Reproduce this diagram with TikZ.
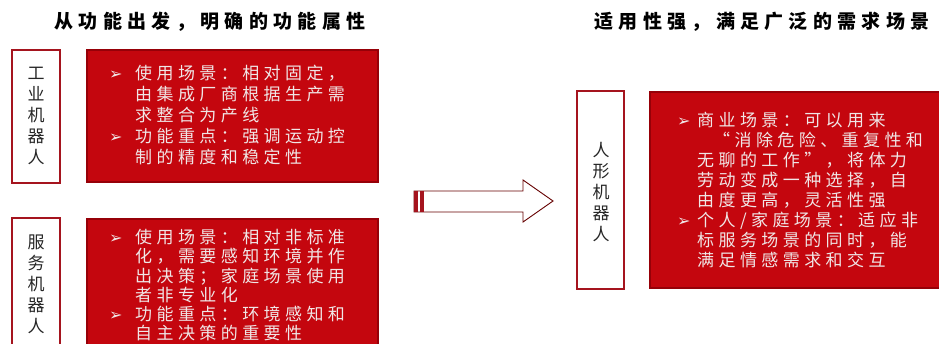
\documentclass[tikz,border=0pt]{standalone}
\usepackage{fontspec}
\newfontfamily\cjk[LetterSpace=26]{Noto Sans CJK SC}
\newfontfamily\cjkt[LetterSpace=28]{Noto Sans CJK SC}
\newfontfamily\cjkv{Noto Sans CJK SC}
\newfontfamily\dv{DejaVu Sans}
\definecolor{boxred}{RGB}{196,6,14}
\definecolor{boxdark}{RGB}{150,0,8}
\definecolor{lblred}{RGB}{165,20,30}
\definecolor{txtw}{RGB}{240,230,230}
\tikzset{
  lbl/.style={draw=lblred, line width=1.2pt, fill=white, inner sep=0pt},
  redbox/.style={fill=boxred, draw=boxdark, line width=2pt, inner sep=0pt},
  body/.style={text=txtw, align=left, anchor=base west, inner sep=0pt},
  vlab/.style={font=\cjkv\fontsize{17}{21}\selectfont, align=center, anchor=base, inner sep=0pt, text=black!85},
  ttl/.style={font=\cjkt\bfseries\fontsize{19}{22}\selectfont, anchor=base, inner sep=0pt, text=black},
  blockarrow/.style={draw=black!60!red, line width=0.9pt, fill=white, line join=miter},
}
\newcommand{\bul}[1]{\makebox[#1][l]{\dv\fontsize{16}{16}\selectfont ➢}}
\begin{document}
\begin{tikzpicture}[x=1pt,y=-1pt]
\useasboundingbox (0,0) rectangle (939,344);
\fill[white] (0,0) rectangle (939,344);
\clip (0,0) rectangle (939,344);

% titles
\node[ttl] (t1) at (210,29) {从功能出发，明确的功能属性};
\node[ttl] (t2) at (762,29) {适用性强，满足广泛的需求场景};

% left column label boxes
\node[lbl, minimum width=48pt, minimum height=133pt] (b1) at (36,116.5) {};
\node[lbl, minimum width=48pt, minimum height=140pt] (b2) at (36,288) {};
\node[vlab] (l1) at (36,163.5) {工\\业\\机\\器\\人};
\node[vlab] (l2) at (36,332.5) {服\\务\\机\\器\\人};

% red boxes left
\node[redbox, minimum width=291pt, minimum height=132pt] (r1) at (232.5,116) {};
\node[redbox, minimum width=291pt, minimum height=140pt] (r2) at (232.5,289) {};

\node[body, font=\cjk\fontsize{17}{21}\selectfont] (x1) at (109,163.5) {%
\bul{26pt}使用场景：相对固定，\\
\hspace*{26pt}由集成厂商根据生产需\\
\hspace*{26pt}求整合为产线\\
\bul{26pt}功能重点：强调运动控\\
\hspace*{26pt}制的精度和稳定性};

\node[body, font=\cjk\fontsize{17}{19.3}\selectfont] (x2) at (109,340) {%
\bul{26pt}使用场景：相对非标准\\
\hspace*{26pt}化，需要感知环境并作\\
\hspace*{26pt}出决策；家庭场景使用\\
\hspace*{26pt}者非专业化\\
\bul{26pt}功能重点：环境感知和\\
\hspace*{26pt}自主决策的重要性};

% arrow
\draw[blockarrow] (414,191) -- (523,191) -- (523,180) -- (553,201) -- (523,222) -- (523,212) -- (414,212) -- cycle;
\fill[lblred] (414,191) rectangle (418,212);
\fill[lblred] (420,191) rectangle (424,212);

% right label box
\node[lbl, minimum width=47pt, minimum height=198pt] (b3) at (600.5,190) {};
\node[vlab] (l3) at (601,240.5) {人\\形\\机\\器\\人};

% right red box
\node[redbox, minimum width=292pt, minimum height=196pt] (r3) at (796,190) {};
\node[body, font=\cjk\fontsize{17}{20}\selectfont] (x3) at (677,266.5) {%
\bul{20pt}商业场景：可以用来\\
\hspace*{36pt}“消除危险、重复性和\\
\hspace*{20pt}无聊的工作”，将体力\\
\hspace*{20pt}劳动变成一种选择，自\\
\hspace*{20pt}由度更高，灵活性强\\
\bul{20pt}个人/家庭场景：适应非\\
\hspace*{20pt}标服务场景的同时，能\\
\hspace*{20pt}满足情感需求和交互};
\end{tikzpicture}
\end{document}
